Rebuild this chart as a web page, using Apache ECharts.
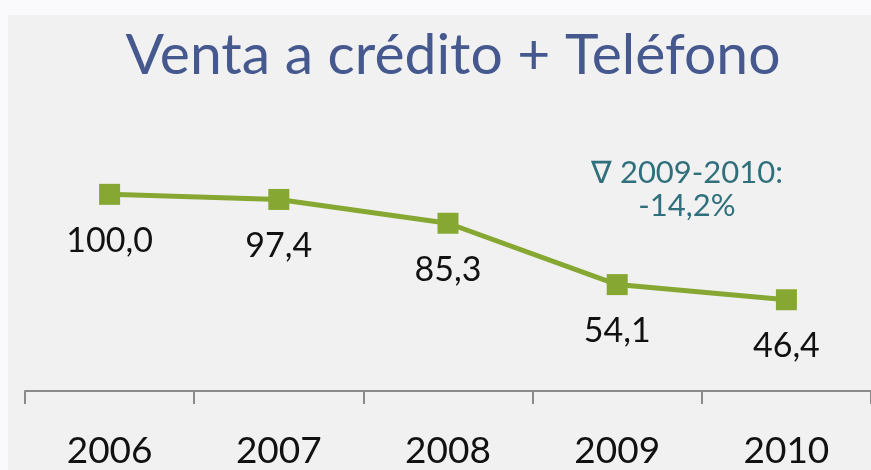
<!DOCTYPE html>
<html>
<head>
<meta charset="utf-8">
<script src="https://cdn.jsdelivr.net/npm/echarts@6/dist/echarts.min.js"></script>
<style>
  html, body { margin: 0; padding: 0; background: #fff; }
  #main { width: 871px; height: 470px; }
</style>
</head>
<body>
<div id="main"></div>
<script>
var years = ['2006', '2007', '2008', '2009', '2010']
var values = [100.0, 97.4, 85.3, 54.1, 46.4]
var titleText = 'Venta a crédito + Teléfono'
var noteLines = ['∇ 2009-2010:', '-14,2%']

var fontFam = 'Lato, "Open Sans", sans-serif'
var myChart = echarts.init(document.getElementById('main'))

myChart.setOption({
    backgroundColor: '#fafafc',
    animation: false,
    title: {
        text: titleText,
        left: 448,
        top: 22,
        textAlign: 'center',
        textStyle: { color: '#45598f', fontSize: 57, fontWeight: 'normal', fontFamily: fontFam }
    },
    graphic: [
        {
            type: 'rect', z: -10, silent: true,
            shape: { x: 8, y: 15, width: 880, height: 470 },
            style: { fill: '#f1f1f1' }
        },
        {
            type: 'text', x: 687, y: 156,
            style: {
                text: noteLines.join('\n'), fill: '#2f707c', fontSize: 31,
                fontFamily: fontFam, align: 'center', lineHeight: 33
            }
        }
    ],
    grid: { left: 25, right: -2, top: 155, bottom: 79 },
    xAxis: {
        type: 'category',
        data: years,
        boundaryGap: true,
        axisLine: { lineStyle: { color: '#8a8a8a', width: 2 } },
        axisTick: { show: true, alignWithLabel: false, length: 13, lineStyle: { color: '#8a8a8a', width: 2 } },
        axisLabel: { color: '#111', fontSize: 37, margin: 42, fontFamily: fontFam }
    },
    yAxis: {
        type: 'value',
        min: 0,
        max: 120,
        show: false,
        splitLine: { show: false }
    },
    series: [{
        type: 'line',
        data: values,
        symbol: 'rect',
        symbolSize: 21,
        itemStyle: { color: '#86a832' },
        lineStyle: { color: '#86a832', width: 5 },
        label: {
            show: true,
            position: 'bottom',
            distance: 19,
            color: '#111',
            fontSize: 34,
            fontFamily: fontFam,
            formatter: function (p) { return p.value.toFixed(1).replace('.', ',') }
        }
    }]
})
</script>
</body>
</html>
